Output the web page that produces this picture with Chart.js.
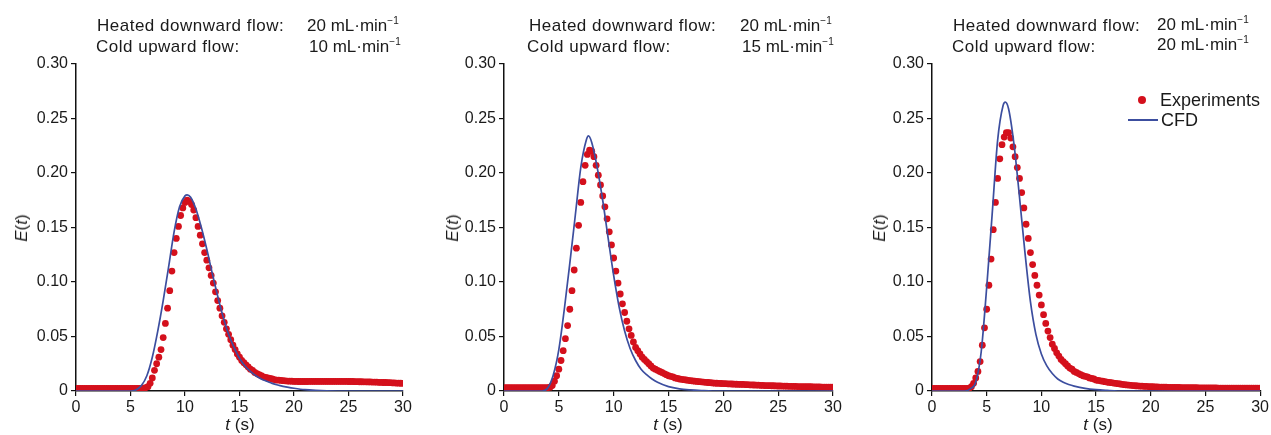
<!DOCTYPE html>
<html>
<head>
<meta charset="utf-8">
<script src="https://cdn.jsdelivr.net/npm/chart.js@4.4.0/dist/chart.umd.min.js"></script>
<style>
  body { margin: 0; background: #fff; width: 1271px; height: 435px; position: relative; overflow: hidden;
         font-family: "Liberation Sans", Arial, sans-serif; color: #1a1a1a; }
  canvas { position: absolute; top: 0; }
  .lbl { position: absolute; white-space: nowrap; font-size: 17px; line-height: 1; transform: translateY(-50%); }
  .lbl.k { letter-spacing: 0.5px; }
  .lbl sup { font-size: 10px; vertical-align: 7px; line-height: 0; }
  .ytitle { position: absolute; font-size: 17px; white-space: nowrap; transform: translate(-50%, -50%) rotate(-90deg); }
  .xtitle { position: absolute; font-size: 17px; white-space: nowrap; transform: translate(-50%, -50%); }
  .dot { position: absolute; width: 8px; height: 8px; border-radius: 50%; background: #d4101c; transform: translate(-50%, -50%); }
  .line { position: absolute; height: 2px; background: #3c4e9f; transform: translateY(-50%); }
</style>
</head>
<body>
<canvas id="c1" width="420" height="435" style="left:0px"></canvas>
<canvas id="c2" width="420" height="435" style="left:430px"></canvas>
<canvas id="c3" width="420" height="435" style="left:851px"></canvas>

<!-- flow rates above each panel -->
<div class="lbl k" style="left:97px;top:25px">Heated downward flow:</div>
<div class="lbl" style="left:307px;top:25px">20 mL·min<sup>−1</sup></div>
<div class="lbl k" style="left:96px;top:46px">Cold upward flow:</div>
<div class="lbl" style="left:309px;top:46px">10 mL·min<sup>−1</sup></div>

<div class="lbl k" style="left:529px;top:25px">Heated downward flow:</div>
<div class="lbl" style="left:740px;top:25px">20 mL·min<sup>−1</sup></div>
<div class="lbl k" style="left:527px;top:46px">Cold upward flow:</div>
<div class="lbl" style="left:742px;top:46px">15 mL·min<sup>−1</sup></div>

<div class="lbl k" style="left:953px;top:25px">Heated downward flow:</div>
<div class="lbl" style="left:1157px;top:24px">20 mL·min<sup>−1</sup></div>
<div class="lbl k" style="left:952px;top:46px">Cold upward flow:</div>
<div class="lbl" style="left:1157px;top:44px">20 mL·min<sup>−1</sup></div>

<!-- axis titles -->
<div class="ytitle" style="left:22px;top:228px"><i>E</i>(<i>t</i>)</div>
<div class="ytitle" style="left:453px;top:228px"><i>E</i>(<i>t</i>)</div>
<div class="ytitle" style="left:880px;top:228px"><i>E</i>(<i>t</i>)</div>
<div class="xtitle" style="left:240px;top:425px"><i>t</i> (s)</div>
<div class="xtitle" style="left:668px;top:425px"><i>t</i> (s)</div>
<div class="xtitle" style="left:1098px;top:425px"><i>t</i> (s)</div>

<!-- legend (third panel) -->
<div class="dot" style="left:1142px;top:100px"></div>
<div class="lbl" style="left:1160px;top:100px;font-size:18px">Experiments</div>
<div class="line" style="left:1128px;top:120px;width:30px"></div>
<div class="lbl" style="left:1161px;top:120px;font-size:18px">CFD</div>

<script>
// sampling times of the experimental points (s)
const expT = [
  0, 0.2, 0.4, 0.6, 0.8, 1, 1.2, 1.4, 1.6, 1.8,
  2, 2.2, 2.4, 2.6, 2.8, 3, 3.2, 3.4, 3.6, 3.8,
  4, 4.2, 4.4, 4.6, 4.8, 5, 5.2, 5.4, 5.6, 5.8,
  6, 6.2, 6.4, 6.6, 6.8, 7, 7.2, 7.4, 7.6, 7.8,
  8, 8.2, 8.4, 8.6, 8.8, 9, 9.2, 9.4, 9.6, 9.8,
  10, 10.2, 10.4, 10.6, 10.8, 11, 11.2, 11.4, 11.6, 11.8,
  12, 12.2, 12.4, 12.6, 12.8, 13, 13.2, 13.4, 13.6, 13.8,
  14, 14.2, 14.4, 14.6, 14.8, 15, 15.2, 15.4, 15.6, 15.8,
  16, 16.2, 16.4, 16.6, 16.8, 17, 17.2, 17.4, 17.6, 17.8,
  18, 18.2, 18.4, 18.6, 18.8, 19, 19.2, 19.4, 19.6, 19.8,
  20, 20.2, 20.4, 20.6, 20.8, 21, 21.2, 21.4, 21.6, 21.8,
  22, 22.2, 22.4, 22.6, 22.8, 23, 23.2, 23.4, 23.6, 23.8,
  24, 24.2, 24.4, 24.6, 24.8, 25, 25.2, 25.4, 25.6, 25.8,
  26, 26.2, 26.4, 26.6, 26.8, 27, 27.2, 27.4, 27.6, 27.8,
  28, 28.2, 28.4, 28.6, 28.8, 29, 29.2, 29.4, 29.6, 29.8,
  30
];

// Experiments, cold upward flow 10 mL/min
const expE1 = [
  .0025, .0025, .0025, .0025, .0025, .0025, .0025, .0025, .0025, .0025,
  .0025, .0025, .0025, .0025, .0025, .0025, .0025, .0025, .0025, .0025,
  .0025, .0025, .0025, .0025, .0025, .0025, .0025, .0025, .0025, .0025,
  .0025, .0027, .003, .004, .007, .012, .019, .025, .031, .038,
  .049, .062, .076, .092, .110, .127, .140, .151, .161, .168,
  .173, .175, .174, .171, .166, .159, .151, .143, .135, .127,
  .120, .113, .106, .099, .091, .083, .076, .069, .063, .057,
  .052, .047, .042, .038, .034, .031, .028, .026, .024, .022,
  .020, .019, .017, .016, .015, .014, .013, .0125, .012, .0115,
  .011, .0105, .010, .010, .0097, .0095, .0093, .0091, .009, .009,
  .0088, .0088, .0087, .0087, .0087, .0087, .0087, .0088, .0088, .0088,
  .0088, .0088, .0088, .0088, .0088, .0088, .0088, .0088, .0088, .0088,
  .0088, .0088, .0088, .0088, .0088, .0087, .0087, .0087, .0086, .0086,
  .0085, .0085, .0084, .0084, .0083, .0083, .0082, .0082, .0081, .0080,
  .0079, .0078, .0078, .0077, .0076, .0075, .0074, .0073, .0072, .0071,
  .0070
];

// Experiments, cold upward flow 15 mL/min
const expE2 = [
  .003, .003, .003, .003, .003, .003, .003, .003, .003, .003,
  .003, .003, .003, .003, .003, .003, .003, .003, .003, .003,
  .003, .0035, .005, .009, .014, .020, .028, .037, .048, .060,
  .075, .092, .111, .131, .152, .173, .192, .207, .217, .221,
  .220, .215, .207, .198, .189, .179, .169, .158, .146, .134,
  .122, .110, .099, .089, .080, .072, .064, .057, .051, .045,
  .040, .037, .034, .031, .029, .027, .025, .023, .021, .020,
  .019, .018, .017, .016, .015, .014, .0135, .013, .012, .0115,
  .011, .0107, .0104, .0101, .0098, .0095, .0092, .009, .0088, .0086,
  .0084, .0082, .008, .0078, .0076, .0074, .0072, .0071, .007, .0069,
  .0068, .0067, .0066, .0065, .0064, .0063, .0062, .0061, .006, .006,
  .0059, .0058, .0057, .0056, .0055, .0054, .0053, .0052, .0051, .005,
  .005, .0049, .0048, .0048, .0047, .0046, .0046, .0045, .0044, .0044,
  .0043, .0043, .0042, .0042, .0041, .0041, .004, .004, .004, .0039,
  .0039, .0038, .0038, .0037, .0037, .0036, .0036, .0036, .0035, .0035,
  .0035
];

// Experiments, cold upward flow 20 mL/min
const expE3 = [
  .0025, .0025, .0025, .0025, .0025, .0025, .0025, .0025, .0025, .0025,
  .0025, .0025, .0025, .0025, .0025, .0025, .0025, .0025, .004, .007,
  .012, .018, .027, .042, .058, .075, .097, .121, .148, .173,
  .195, .213, .226, .233, .237, .237, .232, .224, .215, .205,
  .195, .182, .168, .153, .140, .127, .116, .106, .097, .088,
  .079, .070, .062, .055, .049, .043, .039, .035, .032, .029,
  .027, .025, .023, .021, .020, .018, .017, .016, .015, .014,
  .0135, .013, .012, .0115, .011, .010, .0097, .0093, .009, .0086,
  .0082, .0079, .0076, .0073, .007, .0067, .0064, .0061, .0058, .0056,
  .0054, .0052, .005, .0048, .0047, .0045, .0044, .0043, .0042, .0041,
  .004, .0039, .0038, .0037, .0036, .0036, .0035, .0035, .0034, .0034,
  .0033, .0033, .0032, .0032, .0031, .0031, .0031, .003, .003, .003,
  .003, .003, .0029, .0029, .0029, .0029, .0028, .0028, .0028, .0028,
  .0028, .0027, .0027, .0027, .0027, .0027, .0027, .0027, .0027, .0027,
  .0027, .0027, .0027, .0027, .0027, .0027, .0027, .0027, .0027, .0027,
  .0027
];

// CFD curves
const cfdT1 = [0, 5, 5.5, 6, 6.5, 7, 7.5, 8, 8.5, 9, 9.5, 10, 10.2, 10.5, 11, 11.5, 12, 12.5, 13, 13.5,
  14, 14.5, 15, 15.5, 16, 16.5, 17, 17.5, 18, 18.5, 19, 19.5, 20, 21, 22, 23, 24, 30];
const cfdE1 = [0, 0, .001, .005, .014, .031, .055, .083, .114, .146, .169, .179, .180, .178, .167, .150, .130, .108, .087, .068,
  .052, .040, .030, .023, .018, .014, .011, .009, .007, .0055, .0043, .0033, .0025, .0012, .0005, .0001, 0, 0];

const cfdT2 = [0, 3.5, 4, 4.5, 5, 5.5, 6, 6.5, 7, 7.5, 7.7, 8, 8.5, 9, 9.5, 10, 10.5, 11, 11.5, 12,
  12.5, 13, 13.5, 14, 15, 16, 17, 18, 19, 30];
const cfdE2 = [0, 0, .003, .015, .038, .075, .117, .161, .205, .230, .234, .228, .205, .175, .140, .106, .077, .055, .039, .028,
  .020, .015, .011, .008, .004, .002, .001, .0004, 0, 0];

const cfdT3 = [0, 3, 3.5, 4, 4.5, 5, 5.5, 6, 6.5, 6.7, 7, 7.5, 8, 8.5, 9, 9.5, 10, 10.5, 11, 11.5,
  12, 12.5, 13, 14, 15, 16, 17, 30];
const cfdE3 = [0, 0, .002, .008, .036, .095, .162, .230, .262, .265, .259, .226, .178, .127, .082, .052, .034, .023, .016, .011,
  .008, .006, .0045, .0024, .0012, .0005, 0, 0];

const xTicks = [0, 5, 10, 15, 20, 25, 30];
const yTicks = [0, 0.05, 0.10, 0.15, 0.20, 0.25, 0.30];

const RED = '#d4101c';
const BLUE = '#3c4e9f';

function toPoints(xs, ys) {
    return xs.map((x, i) => ({ x: x, y: ys[i] }));
}

function makePanel(id, expE, cfdT, cfdE, yWidth, padRight) {
    const ctx = document.getElementById(id).getContext('2d');
    return new Chart(ctx, {
        type: 'scatter',
        data: {
            datasets: [
                {
                    label: 'CFD',
                    data: toPoints(cfdT, cfdE),
                    showLine: true,
                    borderColor: BLUE,
                    borderWidth: 1.7,
                    pointRadius: 0,
                    cubicInterpolationMode: 'monotone'
                },
                {
                    label: 'Experiments',
                    data: toPoints(expT, expE),
                    showLine: false,
                    pointRadius: 3.4,
                    pointBorderWidth: 0,
                    backgroundColor: RED,
                    borderColor: RED
                }
            ]
        },
        options: {
            responsive: false,
            animation: false,
            layout: { padding: { top: 64, right: padRight, bottom: 0, left: 0 } },
            plugins: { legend: { display: false }, tooltip: { enabled: false } },
            scales: {
                x: {
                    type: 'linear', min: 0, max: 30,
                    afterFit: s => { s.height = 44; },
                    afterBuildTicks: s => { s.ticks = xTicks.map(v => ({ value: v })); },
                    ticks: { color: '#1a1a1a', padding: 2, font: { family: 'Liberation Sans', size: 16 } },
                    grid: { drawOnChartArea: false, tickLength: 5, color: '#111', lineWidth: 1.2 },
                    border: { color: '#111', width: 1.5 }
                },
                y: {
                    min: 0, max: 0.30,
                    afterFit: s => { s.width = yWidth; },
                    afterBuildTicks: s => { s.ticks = yTicks.map(v => ({ value: v })); },
                    ticks: {
                        color: '#1a1a1a', padding: 3, font: { family: 'Liberation Sans', size: 16 },
                        callback: v => v === 0 ? '0' : v.toFixed(2)
                    },
                    grid: { drawOnChartArea: false, tickLength: 5, color: '#111', lineWidth: 1.2 },
                    border: { color: '#111', width: 1.5 }
                }
            }
        }
    });
}

makePanel('c1', expE1, cfdT1, cfdE1, 76, 17);
makePanel('c2', expE2, cfdT2, cfdE2, 74, 17);
makePanel('c3', expE3, cfdT3, cfdE3, 81, 9);
</script>
</body>
</html>
